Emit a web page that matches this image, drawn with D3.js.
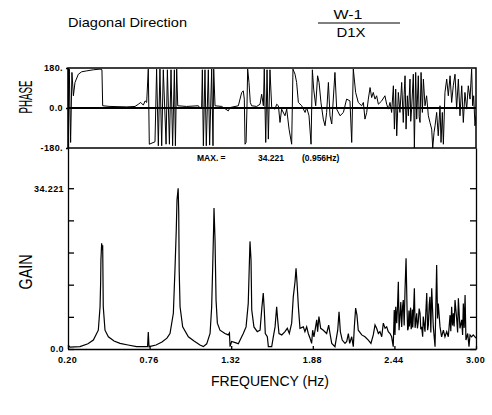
<!DOCTYPE html>
<html>
<head>
<meta charset="utf-8">
<script src="https://cdn.jsdelivr.net/npm/d3@7"></script>
<style>
    body { margin: 0; background: #fff; }
    svg { display: block; }
    text { font-family: "Liberation Sans", Arial, sans-serif; fill: #000; }
</style>
</head>
<body>
<div class="graph"></div>
<script>
//data: [frequency Hz, gain]
let gainData = [
    [0.200,0.85],[0.214,0.4],[0.282,0.5],[0.337,1.1],[0.374,1.9],[0.408,4.0],[0.420,9.0],[0.424,14.1],[0.426,19.0],[0.431,22.5],
    [0.435,21.1],[0.438,22.1],[0.442,9.0],[0.454,4.0],[0.477,2.6],[0.516,1.7],[0.557,1.2],[0.612,0.85],[0.671,0.5],[0.746,0.5],
    [0.751,3.6],[0.756,0.5],[0.804,0.85],[0.845,1.5],[0.879,2.3],[0.900,3.3],[0.923,7.6],[0.934,16.8],[0.943,25.3],[0.948,31.7],
    [0.956,34.221],[0.960,29.0],[0.963,16.8],[0.969,9.0],[0.987,4.7],[1.026,2.6],[1.065,1.7],[1.106,0.85],[1.129,0.5],
    [1.152,1.1],[1.175,3.3],[1.186,9.0],[1.193,17.5],[1.199,25.3],[1.202,30.0],[1.209,23.2],[1.216,10.4],[1.225,5.5],[1.243,4.0],
    [1.277,3.3],[1.300,3.0],[1.308,3.4],[1.312,0.5],[1.323,1.6],[1.353,1.3],[1.369,1.1],[1.392,2.6],[1.403,3.3],[1.422,4.7],
    [1.437,9.7],[1.444,17.5],[1.449,22.9],[1.456,19.0],[1.461,8.3],[1.476,4.7],[1.499,3.7],[1.518,4.0],[1.531,9.0],[1.540,11.9],
    [1.547,8.3],[1.554,3.3],[1.568,2.6],[1.575,0.5],[1.598,0.5],[1.609,2.6],[1.621,4.7],[1.632,9.0],[1.639,6.2],[1.648,3.3],
    [1.667,3.0],[1.689,3.7],[1.705,4.4],[1.719,3.3],[1.735,5.5],[1.746,11.1],[1.758,14.3],[1.765,17.2],[1.772,14.0],[1.781,9.0],
    [1.792,4.4],[1.815,4.7],[1.826,3.7],[1.838,4.7],[1.849,3.3],[1.861,2.3],[1.872,1.2],[1.879,4.0],[1.888,2.6],[1.907,6.2],
    [1.913,3.7],[1.922,6.9],[1.934,4.4],[1.952,4.0],[1.975,3.3],[1.989,5.1],[1.998,3.3],[2.010,1.2],[2.032,0.5],[2.051,4.0],
    [2.060,7.9],[2.069,3.7],[2.082,1.9],[2.101,1.2],[2.113,1.6],[2.124,3.3],[2.133,1.2],[2.147,2.6],[2.158,0.5],[2.165,4.7],
    [2.174,8.7],[2.183,7.2],[2.192,4.0],[2.216,3.0],[2.238,2.6],[2.261,1.9],[2.279,1.2],[2.295,3.0],[2.307,5.1],[2.318,4.4],
    [2.330,3.3],[2.341,3.7],[2.353,2.6],[2.364,5.5],[2.376,4.4],[2.387,4.7],[2.398,3.7],[2.410,3.3],[2.421,2.6],[2.432,0.5],
    [2.439,8.3],[2.444,3.0],[2.449,9.0],[2.456,5.5],[2.462,9.5],[2.467,14.3],[2.472,4.0],[2.478,6.9],[2.484,10.0],[2.490,4.7],
    [2.496,9.0],[2.501,10.4],[2.507,5.0],[2.513,12.6],[2.520,19.3],[2.527,8.3],[2.531,4.0],[2.535,4.4],[2.540,8.2],[2.543,4.8],
    [2.547,6.2],[2.551,8.8],[2.555,4.2],[2.559,5.1],[2.563,8.4],[2.566,4.6],[2.570,6.9],[2.577,12.9],[2.582,4.5],[2.586,5.5],
    [2.593,7.6],[2.598,4.4],[2.604,5.8],[2.610,8.6],[2.616,7.6],[2.621,4.2],[2.627,4.7],[2.634,2.6],[2.638,6.9],[2.650,3.7],
    [2.656,8.0],[2.662,11.9],[2.668,4.0],[2.673,5.1],[2.679,9.5],[2.684,11.1],[2.690,3.5],[2.696,12.9],[2.707,4.7],[2.719,0.5],
    [2.730,17.9],[2.736,6.5],[2.741,9.7],[2.753,4.7],[2.764,2.6],[2.776,4.0],[2.787,2.6],[2.799,3.7],[2.810,2.6],[2.822,7.2],
    [2.827,3.8],[2.833,9.0],[2.839,5.0],[2.845,7.6],[2.850,4.8],[2.856,10.4],[2.868,6.2],[2.874,3.5],[2.879,10.8],[2.890,4.4],
    [2.902,6.2],[2.908,3.0],[2.913,9.7],[2.919,4.5],[2.925,11.5],[2.931,1.9],[2.943,3.3],[2.952,0.5],[2.959,3.0],[2.970,2.6],
    [2.981,3.0],[2.993,2.6],[3.000,2.3]
]

//[frequency Hz, phase deg]
let phaseData = [
    [0.200,-150],[0.202,-163],[0.209,175],[0.218,-155],[0.227,160],[0.237,55],[0.248,115],[0.271,152],[0.294,163],[0.328,167],
    [0.374,172],[0.420,175],[0.433,172],[0.438,10],[0.488,7],[0.603,5],[0.660,7],[0.683,17],[0.699,25],[0.717,13],
    [0.729,32],[0.740,25],[0.751,175],[0.758,-163],[0.797,-152],[0.808,175],[0.820,-170],[0.831,175],[0.843,-170],[0.854,172],
    [0.873,-163],[0.882,172],[0.896,-163],[0.907,172],[0.918,-170],[0.930,172],[0.937,-170],[0.946,175],[0.953,10],[1.014,7],
    [1.095,10],[1.106,-2],[1.117,2],[1.122,172],[1.129,-170],[1.140,172],[1.149,-170],[1.163,172],[1.172,-167],[1.186,175],
    [1.195,-170],[1.200,175],[1.209,10],[1.255,7],[1.300,-13],[1.312,2],[1.369,10],[1.392,70],[1.403,77],[1.410,40],
    [1.415,-163],[1.422,-155],[1.428,-5],[1.433,175],[1.442,115],[1.451,25],[1.460,10],[1.495,7],[1.518,17],[1.529,62],
    [1.541,10],[1.547,175],[1.557,-155],[1.566,172],[1.575,-140],[1.586,172],[1.598,2],[1.621,-5],[1.632,17],[1.644,10],
    [1.655,-65],[1.666,-5],[1.689,-35],[1.701,-5],[1.717,-95],[1.735,-163],[1.744,175],[1.758,152],[1.769,115],[1.781,25],
    [1.804,10],[1.827,-20],[1.838,2],[1.854,-35],[1.868,-163],[1.877,172],[1.886,85],[1.900,10],[1.913,145],[1.923,115],
    [1.936,25],[1.952,-50],[1.964,-80],[1.975,-20],[1.987,115],[1.998,-35],[2.010,-72],[2.032,160],[2.044,-5],[2.067,-35],
    [2.090,-20],[2.112,40],[2.135,32],[2.147,-155],[2.158,175],[2.174,70],[2.192,25],[2.215,10],[2.227,25],[2.238,-50],
    [2.250,-20],[2.261,40],[2.273,92],[2.284,47],[2.295,70],[2.307,40],[2.318,55],[2.330,17],[2.353,32],[2.375,55],
    [2.387,17],[2.398,-5],[2.410,25],[2.421,-20],[2.433,100],[2.440,-95],[2.449,85],[2.456,-125],[2.467,70],[2.478,-20],
    [2.490,115],[2.501,-65],[2.507,60],[2.513,145],[2.520,-95],[2.529,55],[2.536,-35],[2.547,130],[2.552,-60],[2.558,-5],
    [2.570,152],[2.577,-180],[2.586,160],[2.593,-50],[2.604,145],[2.610,-40],[2.616,-65],[2.623,160],[2.632,-20],[2.639,130],
    [2.650,10],[2.661,55],[2.673,-35],[2.684,-65],[2.696,-95],[2.703,-180],[2.712,-110],[2.719,-80],[2.730,-20],[2.741,-125],
    [2.753,10],[2.760,-155],[2.769,-20],[2.776,-163],[2.787,70],[2.799,130],[2.810,55],[2.822,145],[2.833,25],[2.844,100],
    [2.856,152],[2.867,-5],[2.879,130],[2.890,-35],[2.902,100],[2.913,-65],[2.924,70],[2.936,-5],[2.947,100],[2.959,40],
    [2.970,175],[2.977,10],[2.984,55],[2.993,-80],[3.000,-35]
]

//tick labels
let freqTicks = [0.20, 0.76, 1.32, 1.88, 2.44, 3.00]
let gainTicks = [0, 6.8442, 13.6884, 20.5326, 27.3768, 34.221]
let gainTickLabels = ["0.0", "", "", "", "", "34.221"]
let phaseTicks = [180, 0, -180]
let phaseTickLabels = ["180.", "0.0", "-180."]
let maxGain = 34.221
let maxFreq = 0.956

let svgWidth = 492
let svgHeight = 415

//plot area
let left = 68, right = 476
let phaseTop = 68, phaseBottom = 148
let gainBottom = 349

let svg = d3.select('.graph')
    .append('svg')
    .attr('width', svgWidth)
    .attr('height', svgHeight)

// scales
let xScale = d3.scaleLinear().domain([0.2, 3.0]).range([left, right])
let yPhase = d3.scaleLinear().domain([-180, 180]).range([phaseBottom, phaseTop])
let yGain = d3.scaleLinear().domain([0, maxGain * 1.25]).range([gainBottom, phaseBottom])

svg.append('clipPath').attr('id', 'phase-clip')
    .append('rect')
    .attr('x', left).attr('y', phaseTop)
    .attr('width', right - left).attr('height', phaseBottom - phaseTop)

//phase trace
let phaseLine = d3.line()
    .x(d => xScale(d[0]))
    .y(d => yPhase(d[1]))

svg.append('path')
    .attr('d', phaseLine(phaseData))
    .attr('clip-path', 'url(#phase-clip)')
    .attr('fill', 'none')
    .attr('stroke', '#000')
    .attr('stroke-width', 1)

//phase box + zero line
svg.append('rect')
    .attr('x', left).attr('y', phaseTop)
    .attr('width', right - left).attr('height', phaseBottom - phaseTop)
    .attr('fill', 'none')
    .attr('stroke', '#000')
    .attr('stroke-width', 1.5)

svg.append('line')
    .attr('x1', left).attr('x2', right)
    .attr('y1', yPhase(0)).attr('y2', yPhase(0))
    .attr('stroke', '#000')
    .attr('stroke-width', 2)

let phaseAxis = d3.axisLeft(yPhase)
    .tickValues(phaseTicks)
    .tickFormat((d, i) => phaseTickLabels[i])
    .tickSize(2)
    .tickSizeOuter(0)
    .tickPadding(3)

svg.append('g')
    .attr('class', 'axis')
    .attr('transform', `translate(${left},0)`)
    .call(phaseAxis)

//gain trace
let gainLine = d3.line()
    .x(d => xScale(d[0]))
    .y(d => yGain(d[1]))

svg.append('path')
    .attr('d', gainLine(gainData))
    .attr('fill', 'none')
    .attr('stroke', '#000')
    .attr('stroke-width', 1.2)

// axis
let gainAxis = d3.axisLeft(yGain)
    .tickValues(gainTicks)
    .tickFormat((d, i) => gainTickLabels[i])
    .tickSize(-6)
    .tickSizeOuter(0)
    .tickPadding(4)

svg.append('g')
    .attr('class', 'axis')
    .attr('transform', `translate(${left},0)`)
    .call(gainAxis)

svg.append('g')
    .attr('class', 'axis')
    .attr('transform', `translate(${right},0)`)
    .call(d3.axisRight(yGain).tickValues(gainTicks).tickFormat('').tickSize(-6).tickSizeOuter(0))

let xAxis = d3.axisBottom(xScale)
    .tickValues(freqTicks)
    .tickFormat(d3.format('.2f'))
    .tickSize(-3)
    .tickSizeOuter(0)
    .tickPadding(8)

svg.append('g')
    .attr('class', 'axis x-axis')
    .attr('transform', `translate(0,${gainBottom})`)
    .call(xAxis)

svg.selectAll('.axis path, .axis line')
    .attr('stroke', '#000')
    .attr('stroke-width', 1.3)

svg.selectAll('.axis text')
    .attr('fill', '#000')
    .style('font-size', '9px')
    .style('font-weight', 'bold')
    .style('letter-spacing', '0.4px')

svg.selectAll('.x-axis text').attr('dx', '-1')

//titles
svg.append('text')
    .attr('x', 68).attr('y', 27)
    .attr('textLength', 119)
    .attr('lengthAdjust', 'spacingAndGlyphs')
    .style('font-size', '13.5px')
    .text('Diagonal Direction')

svg.append('text')
    .attr('x', 348).attr('y', 19)
    .attr('text-anchor', 'middle')
    .attr('textLength', 29)
    .attr('lengthAdjust', 'spacingAndGlyphs')
    .style('font-size', '12px')
    .text('W-1')

svg.append('line')
    .attr('x1', 318).attr('x2', 400)
    .attr('y1', 23).attr('y2', 23)
    .attr('stroke', '#000')
    .attr('stroke-width', 1)

svg.append('text')
    .attr('x', 351).attr('y', 37)
    .attr('text-anchor', 'middle')
    .attr('textLength', 29)
    .attr('lengthAdjust', 'spacingAndGlyphs')
    .style('font-size', '12px')
    .text('D1X')

// text label for the y axes
svg.append('text')
    .attr('transform', 'translate(32,97) rotate(-90)')
    .attr('text-anchor', 'middle')
    .attr('textLength', 33)
    .attr('lengthAdjust', 'spacingAndGlyphs')
    .style('font-size', '19px')
    .text('PHASE')

svg.append('text')
    .attr('transform', 'translate(32,272) rotate(-90)')
    .attr('text-anchor', 'middle')
    .attr('textLength', 35)
    .attr('lengthAdjust', 'spacingAndGlyphs')
    .style('font-size', '19px')
    .text('GAIN')

svg.append('text')
    .attr('x', 270).attr('y', 386)
    .attr('text-anchor', 'middle')
    .style('font-size', '14px')
    .text('FREQUENCY (Hz)')

//max annotation
let maxLabel = svg.append('g')
    .style('font-size', '8.5px')
    .style('font-weight', 'bold')
maxLabel.append('text').attr('x', 197).attr('y', 161).text('MAX. =')
maxLabel.append('text').attr('x', 258).attr('y', 161).text(d3.format('.3f')(maxGain))
maxLabel.append('text').attr('x', 302).attr('y', 161).text('(' + maxFreq + 'Hz)')
</script>
</body>
</html>
